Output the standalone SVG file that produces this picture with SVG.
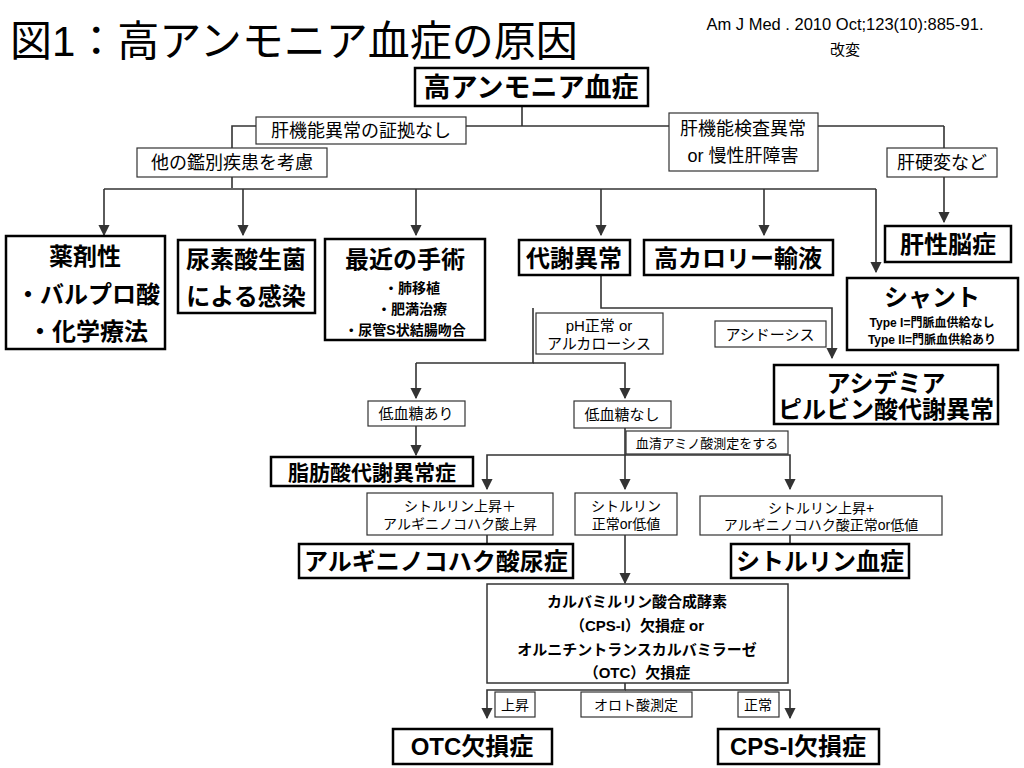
<svg xmlns="http://www.w3.org/2000/svg" width="1024" height="768" viewBox="0 0 1024 768">
<style>
text{font-family:"Liberation Sans","Noto Sans CJK JP",sans-serif;fill:#000;text-anchor:middle}
.b{font-weight:bold}
.bx{fill:#fff;stroke:#000;stroke-width:2.5}
.lb{fill:#fff;stroke:#333;stroke-width:1.2}
.c{fill:none;stroke:#333;stroke-width:1.6}
.c .m{marker-end:url(#a)}
</style>
<defs><marker id="a" viewBox="0 0 10 10" refX="9" refY="5" markerWidth="7" markerHeight="7" orient="auto"><path d="M0,0L10,5L0,10z" fill="#333"/></marker></defs>
<rect width="1024" height="768" fill="#fff"/>
<text x="10" y="56" style="text-anchor:start;font-size:42px">図1：高アンモニア血症の原因</text>
<text x="845" y="30" style="font-size:16.5px">Am J Med . 2010 Oct;123(10):885-91.</text>
<text x="845" y="55" style="font-size:15px">改変</text>
<g id="connectors" class="c">
<path d="M522,106V126M232,188V126H944"/>
<path class="m" d="M944,126V222"/>
<path d="M104,189H876"/>
<path class="m" d="M104,189V235"/>
<path class="m" d="M243,189V235"/>
<path class="m" d="M416,189V235"/>
<path class="m" d="M601,189V235"/>
<path class="m" d="M764,189V235"/>
<path class="m" d="M876,189V272"/>
<path class="m" d="M601,275V308H832V358"/>
<path d="M533,308V363H416"/>
<path class="m" d="M533,363H625V398"/>
<path class="m" d="M416,363V398"/>
<path class="m" d="M416,426V455"/>
<path class="m" d="M625,428V455H487V489"/>
<path class="m" d="M625,455V489"/>
<path class="m" d="M625,455H790V489"/>
<path d="M487,535V544M790,535V544"/>
<path class="m" d="M625,535V583"/>
<path class="m" d="M625,683V690H487V718"/>
<path class="m" d="M625,690H790V718"/>
</g>
<g id="n-root"><rect class="bx" x="415" y="68" width="233" height="38"/><text class="b" x="531" y="97" style="font-size:27px">高アンモニア血症</text></g>
<g id="l1"><rect class="lb" x="256" y="117" width="210" height="27"/><text x="361" y="137" style="font-size:18px">肝機能異常の証拠なし</text></g>
<g id="l2"><rect class="lb" x="137" y="148" width="190" height="29"/><text x="232" y="169" style="font-size:18px">他の鑑別疾患を考慮</text></g>
<g id="l3"><rect class="lb" x="669" y="113" width="149" height="58"/><text x="743" y="135" style="font-size:18px">肝機能検査異常</text><text x="743" y="162" style="font-size:18px">or 慢性肝障害</text></g>
<g id="l4"><rect class="lb" x="887" y="148" width="110" height="29"/><text x="942" y="169" style="font-size:18px">肝硬変など</text></g>
<g id="n-drug"><rect class="bx" x="6" y="236" width="159" height="113"/><text class="b" x="85" y="265" style="font-size:24px">薬剤性</text><text class="b" x="88" y="303" style="font-size:24px">・バルプロ酸</text><text class="b" x="88" y="340" style="font-size:24px">・化学療法</text></g>
<g id="n-inf"><rect class="bx" x="178" y="240" width="137" height="73"/><text class="b" x="246" y="268" style="font-size:24px">尿素酸生菌</text><text class="b" x="246" y="305" style="font-size:24px">による感染</text></g>
<g id="n-surg"><rect class="bx" x="325" y="239" width="160" height="101"/><text class="b" x="405" y="268" style="font-size:24px">最近の手術</text><text class="b" x="412" y="293" style="font-size:14px">・肺移植</text><text class="b" x="412" y="314" style="font-size:14px">・肥満治療</text><text class="b" x="405" y="335" style="font-size:14px">・尿管S状結腸吻合</text></g>
<g id="n-met"><rect class="bx" x="519" y="240" width="111" height="35"/><text class="b" x="574" y="267" style="font-size:24px">代謝異常</text></g>
<g id="n-tpn"><rect class="bx" x="644" y="240" width="189" height="35"/><text class="b" x="738" y="267" style="font-size:24px">高カロリー輸液</text></g>
<g id="n-he"><rect class="bx" x="885" y="226" width="126" height="36"/><text class="b" x="948" y="253" style="font-size:24px">肝性脳症</text></g>
<g id="n-shunt"><rect class="bx" x="847" y="278" width="171" height="72"/><text class="b" x="932" y="306" style="font-size:24px">シャント</text><text class="b" x="932" y="327" style="font-size:12px">Type I=門脈血供給なし</text><text class="b" x="932" y="344" style="font-size:12px">Type II=門脈血供給あり</text></g>
<g id="l5"><rect class="lb" x="536" y="313" width="127" height="41"/><text x="599" y="331" style="font-size:15px">pH正常 or</text><text x="599" y="349" style="font-size:15px">アルカローシス</text></g>
<g id="l6"><rect class="lb" x="715" y="321" width="111" height="26"/><text x="770" y="340" style="font-size:15px">アシドーシス</text></g>
<g id="n-acid"><rect class="bx" x="774" y="365" width="224" height="59"/><text class="b" x="886" y="392" style="font-size:24px">アシデミア</text><text class="b" x="886" y="418" style="font-size:24px">ピルビン酸代謝異常</text></g>
<g id="l7"><rect class="lb" x="368" y="401" width="97" height="25"/><text x="416" y="419" style="font-size:15px">低血糖あり</text></g>
<g id="l8"><rect class="lb" x="574" y="401" width="97" height="27"/><text x="622" y="420" style="font-size:15px">低血糖なし</text></g>
<g id="l9"><rect class="lb" x="626" y="431" width="162" height="23"/><text x="707" y="448" style="font-size:13px">血清アミノ酸測定をする</text></g>
<g id="n-fat"><rect class="bx" x="271" y="457" width="202" height="29"/><text class="b" x="372" y="480" style="font-size:21px">脂肪酸代謝異常症</text></g>
<g id="l10"><rect class="lb" x="367" y="493" width="186" height="42"/><text x="460" y="511" style="font-size:14px">シトルリン上昇＋</text><text x="460" y="529" style="font-size:14px">アルギニノコハク酸上昇</text></g>
<g id="l11"><rect class="lb" x="575" y="493" width="102" height="42"/><text x="626" y="511" style="font-size:14px">シトルリン</text><text x="626" y="529" style="font-size:14px">正常or低値</text></g>
<g id="l12"><rect class="lb" x="700" y="496" width="242" height="39"/><text x="821" y="513" style="font-size:14px">シトルリン上昇+</text><text x="821" y="530" style="font-size:14px">アルギニノコハク酸正常or低値</text></g>
<g id="n-asa"><rect class="bx" x="299" y="544" width="274" height="34"/><text class="b" x="436" y="570" style="font-size:24px">アルギニノコハク酸尿症</text></g>
<g id="n-cit"><rect class="bx" x="731" y="544" width="178" height="34"/><text class="b" x="820" y="570" style="font-size:24px">シトルリン血症</text></g>
<g id="n-cps"><rect class="lb" x="487" y="584" width="301" height="99" style="stroke-width:1.5"/><text class="b" x="637" y="607" style="font-size:15px">カルバミルリン酸合成酵素</text><text class="b" x="637" y="631" style="font-size:15px">（CPS-I）欠損症 or</text><text class="b" x="637" y="655" style="font-size:15px">オルニチントランスカルバミラーゼ</text><text class="b" x="637" y="678" style="font-size:15px">（OTC）欠損症</text></g>
<g id="l13"><rect class="lb" x="495" y="692" width="40" height="25"/><text x="515" y="710" style="font-size:14px">上昇</text></g>
<g id="l14"><rect class="lb" x="581" y="692" width="111" height="25"/><text x="636" y="710" style="font-size:14px">オロト酸測定</text></g>
<g id="l15"><rect class="lb" x="738" y="692" width="41" height="25"/><text x="758" y="710" style="font-size:14px">正常</text></g>
<g id="n-otc"><rect class="bx" x="393" y="729" width="159" height="35"/><text class="b" x="472" y="755" style="font-size:24px">OTC欠損症</text></g>
<g id="n-cpsd"><rect class="bx" x="718" y="729" width="161" height="35"/><text class="b" x="798" y="755" style="font-size:24px">CPS-I欠損症</text></g>
</svg>
